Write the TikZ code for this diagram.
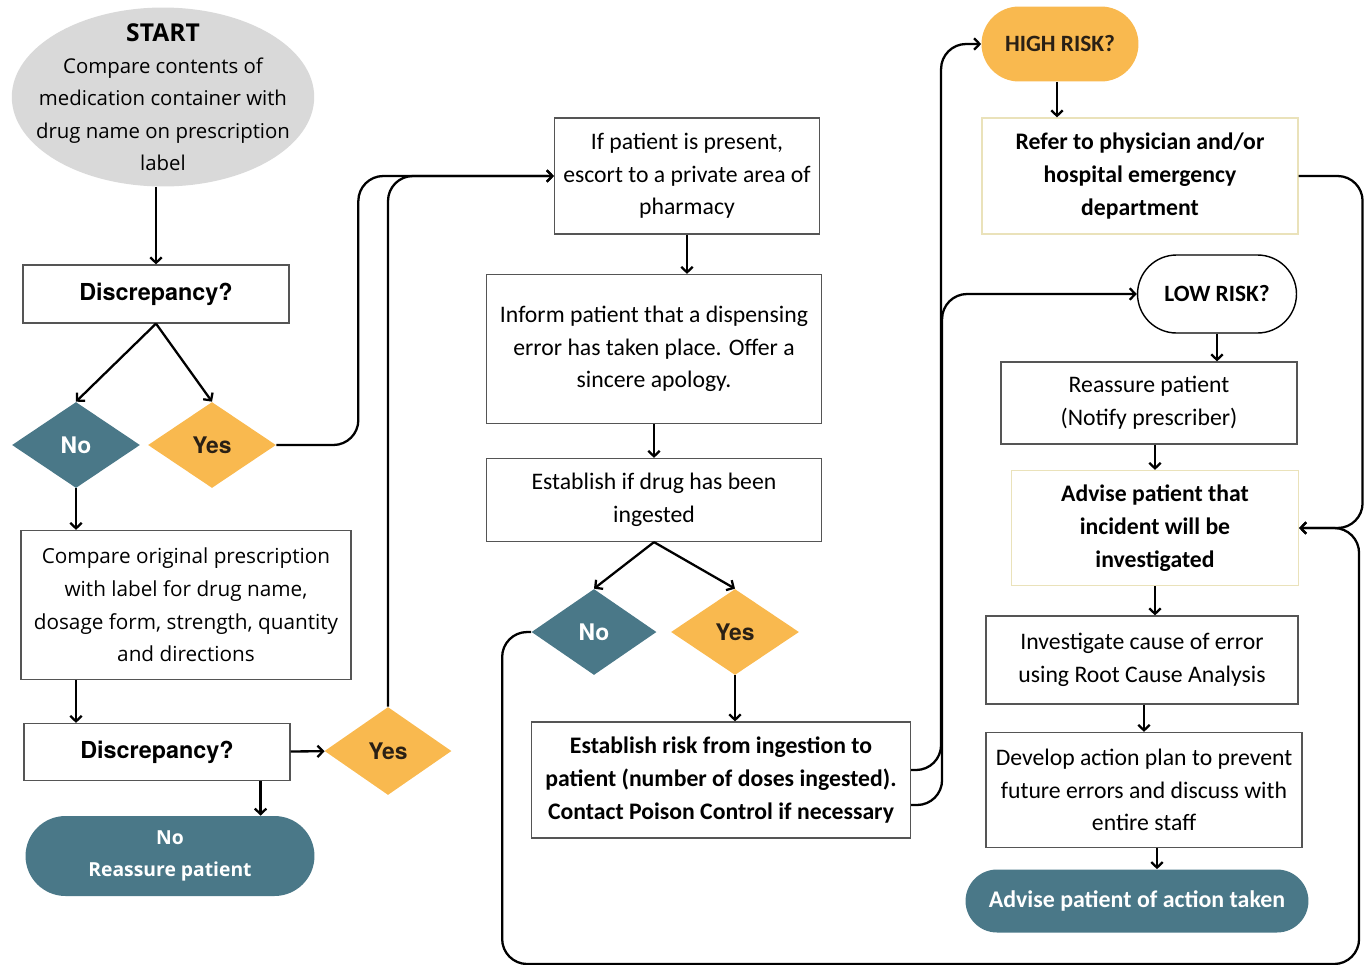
\documentclass[tikz,border=0pt]{standalone}
\usepackage{fontspec}
\setmainfont{Open Sans}
\newfontfamily\calib{Carlito}
\newfontfamily\heros{TeX Gyre Heros}
\usepackage{tikz}
\usetikzlibrary{shapes.geometric,positioning,calc,arrows.meta}
\definecolor{tealbox}{HTML}{4A7888}
\definecolor{ambr}{HTML}{F9B94F}
\definecolor{greystart}{HTML}{D9D9D9}
\definecolor{paleedge}{HTML}{EAE2BA}
\definecolor{boxedge}{HTML}{555555}
\definecolor{darktext}{HTML}{2A2015}

\begin{document}
\begin{tikzpicture}[x=0.02cm, y=-0.02cm,
        >={Straight Barb[length=1.1mm,width=2.3mm]},
        block/.style={draw=boxedge, line width=0.7pt, rectangle, align=center, inner sep=2pt,
            font=\calib\fontsize{13.5}{18.6}\selectfont},
        openblock/.style={block, font=\fontsize{11.8}{18.6}\selectfont},
        askbox/.style={block, font=\heros\bfseries\fontsize{13.3}{15}\selectfont},
        boldblock/.style={block, font=\calib\bfseries\fontsize{13.5}{18.6}\selectfont},
        decide/.style={diamond, inner sep=0pt, minimum width=2.56cm, minimum height=1.72cm,
            font=\heros\bfseries\fontsize{13}{15}\selectfont},
        nodia/.style={decide, fill=tealbox, text=white},
        yesdia/.style={decide, fill=ambr, text=darktext},
        pill/.style={rectangle, align=center, inner sep=0pt},
        line/.style={->, line width=1.3pt},
        flow/.style={line, rounded corners=0.5cm}
    ]
    \useasboundingbox (0,0) rectangle (1369,964);

    % left column
    \node [ellipse, fill=greystart, minimum width=6.04cm, minimum height=3.58cm,
        inner xsep=-0.4cm, inner ysep=-0.3cm,
        align=center, font=\fontsize{11.6}{18.4}\selectfont] (start) at (163,97)
        {{\fontsize{14}{18.4}\selectfont\textbf{START}}\\Compare contents of\\medication container with\\drug name on prescription\\label};
    \node [askbox, minimum width=5.32cm, minimum height=1.16cm] (disc1) at (156,294) {Discrepancy?};
    \node [nodia] (no1) at (76,445) {No};
    \node [yesdia] (yes1) at (212,445) {Yes};
    \node [openblock, minimum width=6.6cm, minimum height=2.98cm] (compare) at (186,605)
        {Compare original prescription\\with label for drug name,\\dosage form, strength, quantity\\and directions};
    \node [askbox, minimum width=5.32cm, minimum height=1.14cm] (disc2) at (157,752) {Discrepancy?};
    \node [yesdia, minimum width=2.54cm, minimum height=1.76cm] (yes2) at (388,751) {Yes};
    \node [pill, fill=tealbox, text=white, rounded corners=0.8cm, minimum width=5.78cm, minimum height=1.6cm,
        font=\bfseries\fontsize{11}{18.6}\selectfont] (noreas) at (170,856) {No\\Reassure patient};

    % middle column
    \node [block, minimum width=5.3cm, minimum height=2.32cm] (escort) at (687,176)
        {If patient is present,\\escort to a private area of\\pharmacy};
    \node [block, minimum width=6.7cm, minimum height=2.98cm] (inform) at (654,349)
        {Inform patient that a dispensing\\error has taken place. Offer a\\sincere apology.};
    \node [block, minimum width=6.7cm, minimum height=1.66cm] (ingest) at (654,500)
        {Establish if drug has been\\ingested};
    \node [nodia, minimum width=2.5cm] (no3) at (594,632) {No};
    \node [yesdia] (yes3) at (735,632) {Yes};
    \node [boldblock, minimum width=7.58cm, minimum height=2.32cm] (risk) at (721,780)
        {Establish risk from ingestion to\\patient (number of doses ingested).\\Contact Poison Control if necessary};

    % right column
    \node [pill, fill=ambr, text=darktext, rounded corners=0.75cm, minimum width=3.14cm, minimum height=1.5cm,
        font=\calib\bfseries\fontsize{13.3}{15}\selectfont] (high) at (1060,44) {HIGH RISK?};
    \node [boldblock, draw=paleedge, minimum width=6.32cm, minimum height=2.32cm] (refer) at (1140,176)
        {Refer to physician and/or\\hospital emergency\\department};
    \node [pill, draw=black, line width=0.8pt, rounded corners=0.78cm, minimum width=3.18cm, minimum height=1.56cm,
        font=\calib\bfseries\fontsize{13.3}{15}\selectfont] (low) at (1217,294) {LOW RISK?};
    \node [block, minimum width=5.92cm, minimum height=1.64cm] (reas) at (1149,403)
        {Reassure patient\\(Notify prescriber)};
    \node [boldblock, draw=paleedge, minimum width=5.74cm, minimum height=2.3cm] (advise) at (1155,528)
        {Advise patient that\\incident will be\\investigated};
    \node [block, minimum width=6.24cm, minimum height=1.76cm] (invest) at (1142,660)
        {Investigate cause of error\\using Root Cause Analysis};
    \node [block, minimum width=6.32cm, minimum height=2.3cm] (develop) at (1144,790)
        {Develop action plan to prevent\\future errors and discuss with\\entire staff};
    \node [pill, fill=tealbox, text=white, rounded corners=0.63cm, minimum width=6.86cm, minimum height=1.26cm,
        font=\calib\bfseries\fontsize{13.6}{15}\selectfont] (action) at (1137,901) {Advise patient of action taken};

    % left column arrows
    \draw [line] (disc1.north |- start.south) -- (disc1.north);
    \draw [line] (disc1.south) -- (no1.north);
    \draw [line] (disc1.south) -- (yes1.north);
    \draw [line] (no1.south) -- (no1.south |- compare.north);
    \draw [line] (no1.south |- compare.south) -- (no1.south |- disc2.north);
    \draw [line] (disc2) -- (yes2);
    \draw [line] ([xshift=-0.6cm]disc2.south east) -- ([xshift=-0.6cm]disc2.south east |- noreas.north);
    \draw [flow] (yes1.east) -- ++(82,0) |- (escort.west);
    \draw [flow] (yes2.north) |- (escort.west);

    % middle column arrows
    \draw [line] (escort.south) -- (escort.south |- inform.north);
    \draw [line] (inform.south) -- (ingest.north);
    \draw [line] (ingest.south) -- (no3.north);
    \draw [line] (ingest.south) -- (yes3.north);
    \draw [line] (yes3.south) -- (yes3.south |- risk.north);
    \draw [flow] ([yshift=0.2cm]risk.east) -- ++(30,0) |- (high.west);
    \draw [flow] ([yshift=-0.5cm]risk.east) -- ++(31,0) |- (low.west);
    \draw [flow] (no3.west) -- ++(-29,0) -- ++(0,332) -| ([xshift=1.2cm]advise.east) -- (advise.east);

    % right column arrows
    \draw [line] (high.south -| 1057,0) -- (refer.north -| 1057,0);
    \draw [flow] (refer.east) -- ++(64,0) |- (advise.east);
    \draw [line] (low.south) -- (low.south |- reas.north);
    \draw [line] (advise.north |- reas.south) -- (advise.north);
    \draw [line] (advise.south) -- (advise.south |- invest.north);
    \draw [line] (develop.north |- invest.south) -- (develop.north);
    \draw [line] ([xshift=0.26cm]develop.south) -- ([xshift=0.26cm]develop.south |- action.north);
\end{tikzpicture}
\end{document}
